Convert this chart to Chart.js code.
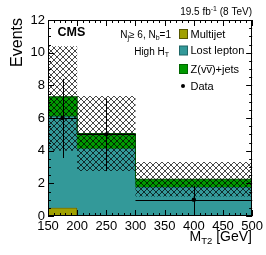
<!DOCTYPE html>
<html>
<head>
<meta charset="utf-8">
<script src="https://cdn.jsdelivr.net/npm/chart.js@4.4.0/dist/chart.umd.min.js"></script>
<style>
  html, body { margin: 0; padding: 0; background: #fff; }
  #wrap { width: 266px; height: 255px; position: relative; }
</style>
</head>
<body>
<div id="wrap"><canvas id="c"></canvas></div>
<script>
"use strict";

// ── Data ──────────────────────────────────────────────────────────────────────
const binEdges   = [150, 200, 300, 500];          // MT2 bins [GeV]
const multijet   = [0.5, 0.0, 0.0];
const lostLepton = [5.6, 4.14, 1.77];
const zinv       = [1.2, 0.91, 0.48];
const bandLow    = [4.0, 2.75, 1.19];             // total bkg uncertainty
const bandHigh   = [10.4, 7.34, 3.3];
const dataX      = [175, 250, 400];
const dataY      = [6, 5, 1];
const dataErrUp  = [2.4, 2.2, 0.85];
const dataErrDn  = [2.45, 2.25, 1.0];
const xTicks     = [150, 200, 250, 300, 350, 400, 450, 500];
const yTicks     = [0, 2, 4, 6, 8, 10, 12];

const C = {
  multijet: "#a0a000",
  lostlep:  "#339999",
  zinv:     "#009900",
};

const FONT = "'Liberation Sans', Arial, Helvetica, sans-serif";

// ── Helpers ───────────────────────────────────────────────────────────────────
// point i sits at the low edge of bin i; "before" stepping holds it to the next edge
function steps(vals) {
  const pts = vals.map((v, i) => ({ x: binEdges[i], y: v }));
  pts.push({ x: binEdges[binEdges.length - 1], y: vals[vals.length - 1] });
  return pts;
}

function cumulate(...series) {
  return series[0].map((_, i) => series.reduce((a, s) => a + s[i], 0));
}

const mjTop = multijet;
const llTop = cumulate(multijet, lostLepton);
const zTop  = cumulate(multijet, lostLepton, zinv);

const canvas = document.getElementById("c");
const ctx0 = canvas.getContext("2d");

function makeHatch() {
  const s = 6;
  const cv = document.createElement("canvas");
  cv.width = s; cv.height = s;
  const g = cv.getContext("2d");
  g.strokeStyle = "rgba(0,0,0,0.8)";
  g.lineWidth = 0.9;
  g.beginPath();
  g.moveTo(-1, -1); g.lineTo(s + 1, s + 1);
  g.moveTo(-1, s + 1); g.lineTo(s + 1, -1);
  g.stroke();
  return ctx0.createPattern(cv, "repeat");
}

// draw text made of parts: {t, size, dy, bold}
function richText(ctx, parts, x, y, align) {
  let w = 0;
  parts.forEach(p => {
    ctx.font = `${p.bold ? "bold " : ""}${p.size}px ${FONT}`;
    p.w = ctx.measureText(p.t).width;
    w += p.w;
  });
  let cx = align === "right" ? x - w : x;
  ctx.textAlign = "left";
  ctx.textBaseline = "alphabetic";
  parts.forEach(p => {
    ctx.font = `${p.bold ? "bold " : ""}${p.size}px ${FONT}`;
    ctx.fillText(p.t, cx, y + (p.dy || 0));
    cx += p.w;
  });
}

// ── Plugins ───────────────────────────────────────────────────────────────────
const errorBars = {
  id: "errorBars",
  afterDatasetsDraw(chart) {
    const { ctx, scales: { x, y } } = chart;
    ctx.save();
    ctx.strokeStyle = "#000";
    ctx.lineWidth = 1;
    dataY.forEach((v, i) => {
      const px = Math.round(x.getPixelForValue(dataX[i])) + 0.5;
      const py = Math.round(y.getPixelForValue(v)) + 0.5;
      ctx.beginPath();
      ctx.moveTo(px, y.getPixelForValue(v + dataErrUp[i]));
      ctx.lineTo(px, y.getPixelForValue(Math.max(0, v - dataErrDn[i])));
      ctx.moveTo(x.getPixelForValue(binEdges[i]), py);
      ctx.lineTo(x.getPixelForValue(binEdges[i + 1]), py);
      ctx.stroke();
    });
    ctx.restore();
  },
};

const frameTicks = {
  id: "frameTicks",
  afterDraw(chart) {
    const { ctx, chartArea: a, scales: { x, y } } = chart;
    ctx.save();
    ctx.strokeStyle = "#000";
    ctx.lineWidth = 1;
    ctx.beginPath();
    // y ticks (left & right), minor every 0.5
    for (let v = 0; v <= 12.0001; v += 0.5) {
      const py = Math.round(y.getPixelForValue(v)) + 0.5;
      const len = Math.abs(v % 2) < 1e-6 ? 6 : 3;
      ctx.moveTo(a.left, py);  ctx.lineTo(a.left + len, py);
      ctx.moveTo(a.right, py); ctx.lineTo(a.right - len, py);
    }
    // x ticks (bottom & top), minor every 10
    for (let v = 150; v <= 500; v += 10) {
      const px = Math.round(x.getPixelForValue(v)) + 0.5;
      const len = v % 50 === 0 ? 6 : 3;
      ctx.moveTo(px, a.bottom); ctx.lineTo(px, a.bottom - len);
      ctx.moveTo(px, a.top);    ctx.lineTo(px, a.top + len);
    }
    ctx.stroke();
    ctx.strokeRect(Math.round(a.left) + 0.5, Math.round(a.top) + 0.5,
                   Math.round(a.right - a.left) - 1, Math.round(a.bottom - a.top) - 1);
    ctx.restore();
  },
};

const labels = {
  id: "labels",
  afterDraw(chart) {
    const { ctx } = chart;
    ctx.save();
    ctx.fillStyle = "#000";

    // y title
    ctx.save();
    ctx.translate(21.5, 18);
    ctx.rotate(-Math.PI / 2);
    ctx.font = `16px ${FONT}`;
    ctx.textAlign = "right";
    ctx.textBaseline = "alphabetic";
    ctx.fillText("Events", 0, 0);
    ctx.restore();

    // x title
    richText(ctx, [
      { t: "M", size: 14 },
      { t: "T2", size: 9.5, dy: 3 },
      { t: " [GeV]", size: 14 },
    ], 252, 241, "right");

    // lumi
    richText(ctx, [
      { t: "19.5 fb", size: 10 },
      { t: "-1", size: 7, dy: -4 },
      { t: " (8 TeV)", size: 10 },
    ], 252, 15, "right");

    // CMS
    richText(ctx, [{ t: "CMS", size: 12.5, bold: true }], 57.5, 36, "left");

    // selection
    richText(ctx, [
      { t: "N", size: 10 }, { t: "j", size: 7, dy: 2 },
      { t: "\u2265 6, N", size: 10 }, { t: "b", size: 7, dy: 2 },
      { t: "=1", size: 10 },
    ], 171, 37.5, "right");
    richText(ctx, [
      { t: "High H", size: 10 }, { t: "T", size: 7, dy: 2 },
    ], 169, 54.5, "right");

    // legend
    const ds = chart.data.datasets;
    const rows = [
      { y: 34,   ds: ds[0], border: "#555500" },
      { y: 50.5, ds: ds[1], border: "#1f6666" },
      { y: 69,   ds: ds[2], border: "#006600" },
    ];
    rows.forEach(r => {
      ctx.fillStyle = r.ds.backgroundColor;
      ctx.fillRect(179, r.y - 4.5, 9, 9);
      ctx.strokeStyle = r.border;
      ctx.lineWidth = 1;
      ctx.strokeRect(179.5, r.y - 4.5, 8, 9);
      ctx.fillStyle = "#000";
      ctx.font = `11px ${FONT}`;
      ctx.textAlign = "left";
      ctx.textBaseline = "middle";
      ctx.fillText(r.ds.label, 190.5, r.y + 0.5);
    });
    ctx.beginPath();
    ctx.arc(183, 86, 2, 0, Math.PI * 2);
    ctx.fill();
    ctx.fillText("Data", 190.5, 86.5);

    ctx.restore();
  },
};

// ── Chart ─────────────────────────────────────────────────────────────────────
const hatch = makeHatch();
const lineBase = { stepped: "before", pointRadius: 0, borderWidth: 1 };

new Chart(canvas, {
  type: "line",
  data: {
    datasets: [
      { ...lineBase, label: "Multijet", data: steps(mjTop), fill: "origin",
        backgroundColor: C.multijet, borderColor: "#444400", order: 5 },
      { ...lineBase, label: "Lost lepton", data: steps(llTop), fill: "-1",
        backgroundColor: C.lostlep, borderColor: "#1f6666", order: 4 },
      { ...lineBase, label: "Z(vv\u0305)+jets", data: steps(zTop), fill: "-1",
        backgroundColor: C.zinv, borderColor: "#005500", order: 3 },
      { ...lineBase, label: "band low", data: steps(bandLow), fill: false,
        borderWidth: 0, borderColor: "rgba(0,0,0,0)", order: 2 },
      { ...lineBase, label: "band high", data: steps(bandHigh), fill: "-1",
        borderWidth: 0, borderColor: "rgba(0,0,0,0)", backgroundColor: hatch, order: 1 },
      { label: "Data", data: dataX.map((x, i) => ({ x, y: dataY[i] })), showLine: false,
        pointRadius: 2.2, pointBackgroundColor: "#000", pointBorderWidth: 0, order: 0 },
    ],
  },
  options: {
    responsive: true,
    maintainAspectRatio: false,
    animation: false,
    layout: { padding: { top: 20, right: 13, left: 0, bottom: 0 } },
    plugins: { legend: { display: false }, tooltip: { enabled: false } },
    scales: {
      x: {
        type: "linear", min: 150, max: 500,
        afterFit: s => { s.height = 39; },
        afterBuildTicks: s => { s.ticks = xTicks.map(v => ({ value: v })); },
        grid: { display: false, drawTicks: false },
        border: { display: false },
        ticks: { padding: 3, color: "#000", font: { family: FONT, size: 13 }, maxRotation: 0, autoSkip: false },
      },
      y: {
        type: "linear", min: 0, max: 12,
        afterFit: s => { s.width = 48; },
        afterBuildTicks: s => { s.ticks = yTicks.map(v => ({ value: v })); },
        grid: { display: false, drawTicks: false },
        border: { display: false },
        ticks: { padding: 3, color: "#000", font: { family: FONT, size: 13 } },
      },
    },
  },
  plugins: [errorBars, frameTicks, labels],
});
</script>
</body>
</html>
